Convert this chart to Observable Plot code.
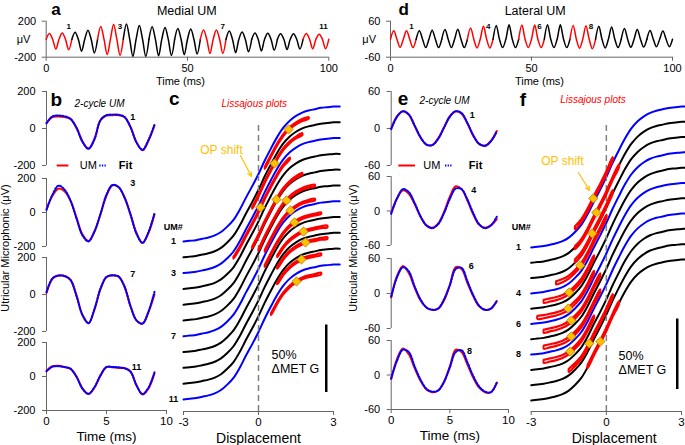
<!DOCTYPE html>
<html><head><meta charset="utf-8">
<script src="https://cdn.jsdelivr.net/npm/d3@7"></script>
<script src="https://cdn.jsdelivr.net/npm/@observablehq/plot@0.6"></script>
<style>
body{margin:0;background:#fff;font-family:"Liberation Sans",Arial,sans-serif;}
#root{position:relative;width:685px;height:445px;overflow:hidden;background:#fff;}
.ytitle{position:absolute;transform:translate(-50%,-50%) rotate(-90deg);font-size:11px;white-space:nowrap;color:#000;}
</style></head><body><div id="root"></div>
<script>
// ---------- data: long 100 ms traces (per-cycle peak / trough, µV) ----------
const medialPeaks   = [62,70, 78,100, 141,163, 170,152, 138,130, 120,112, 103,103, 90,80, 70,66, 60,60, 62,56];
const medialTroughs = [-110,-118, -133,-152, -170,-178, -190,-190, -185,-180, -172,-165, -158,-158, -150,-140, -130,-122, -115,-110, -106,-106];
const medialRedSegments = [1,3,7,11];
const medialTicksY = [-200,200];
const lateralPeaks   = [28,28, 28,30, 32,33, 37,43, 46,48, 47,47, 48,48, 46,45, 43,41, 36,32, 29,27];
const lateralTroughs = [-27,-28, -28,-28, -28,-28, -29,-29, -28,-28, -28,-28, -28,-28, -30,-32, -29,-28, -27,-26, -25,-25];
const lateralRedSegments = [1,4,6,8];
const lateralTicksY = [-60,60];
const traceTicksX = [0,50,100];

// ---------- data: 2-cycle UM segments (µV at tGrid ms) ----------
const tGrid = [0,0.5,1,1.5,2,2.5,3,3.5,4,4.5,5,5.5,6,6.5,7,7.5,8,8.5,9];
const bUM1  = [30,62,65,62,52,5,-70,-108,-55,45,70,72,72,62,8,-75,-118,-65,15];
const bFit1 = [28,66,70,66,52,3,-72,-110,-58,45,72,75,74,62,8,-75,-115,-62,22];
const bUM3  = [20,100,140,125,70,-30,-130,-168,-110,-10,100,160,150,90,-10,-120,-180,-120,-10];
const bFit3 = [15,105,158,135,70,-35,-135,-170,-112,-8,105,162,150,88,-12,-125,-178,-115,-5];
const bUM7  = [9,85,103,100,80,-5,-110,-155,-80,30,95,103,98,42,-65,-140,-158,-95,0];
const bFit7 = [12,88,102,100,78,-8,-112,-155,-78,32,95,104,97,44,-62,-140,-157,-92,15];
const bUM11 = [34,60,63,55,45,0,-70,-103,-65,5,55,55,50,50,30,-52,-106,-70,20];
const bFit11= [30,58,60,56,46,-2,-72,-102,-62,8,56,56,54,48,28,-52,-103,-65,25];
const eUM1  = [0,20,28,22,4,-15,-26,-27,-16,2,20,28,24,8,-12,-25,-28,-20,-4];
const eFit1 = [-1,19,28,23,5,-14,-26,-27,-17,1,19,28,25,9,-11,-25,-28,-21,-5];
const eUM4  = [-3,22,36,30,12,-10,-25,-29,-22,-2,25,43,38,18,-6,-24,-29,-25,-14];
const eFit4 = [-5,22,38,33,14,-9,-25,-30,-23,-4,21,39,38,20,-4,-23,-30,-25,-10];
const eUM6  = [-7,30,47,35,10,-12,-24,-28,-26,-12,15,45,42,18,-5,-22,-28,-26,-13];
const eFit6 = [-5,28,45,38,12,-10,-24,-28,-26,-10,14,42,44,21,-3,-21,-28,-26,-13];
const eUM8  = [-7,28,46,36,12,-10,-25,-30,-27,-12,15,44,40,18,-5,-22,-30,-30,-13];
const eFit8 = [-6,25,44,40,15,-8,-24,-29,-27,-12,13,40,43,22,-2,-20,-29,-30,-14];
const bTicksY = [-200,0,200], eTicksY = [-60,0,60], smallTicksX = [0,5,10];

// ---------- data: MET conductance curve (fraction) vs displacement ----------
const dispGrid = [-3,-2.75,-2.5,-2.25,-2,-1.75,-1.5,-1.25,-1,-0.75,-0.5,-0.25,0,0.25,0.5,0.75,1,1.25,1.5,1.75,2,2.25,2.5,2.75,3,3.25];
const metG     = [0,0.005,0.01,0.02,0.03,0.045,0.07,0.11,0.16,0.235,0.325,0.41,0.5,0.6,0.69,0.775,0.845,0.895,0.93,0.955,0.97,0.98,0.99,0.995,1,1];
const umNumbers = [1,2,3,4,5,6,7,8,9,10,11];
const cBlueUM = [1,3,7,11], fBlueUM = [1,4,6,8];
const dispTicks = [-3,0,3];
// Lissajous operating points (displacement, %G level) and loop extents
const cOpX = [1.2,0.64,0.72,1.12,0.08,1.28,1.44,1.8,1.88,1.72,1.52];
const cOpY = [83.0,57.8,31.1,30.4,25.2,23.0,14.1,7.4,-0.7,-13.3,-29.6];
const cLoopFrom = [0.25,-0.25,-0.25,0,-1.0,0.25,0.25,0.75,0.75,0.75,0.5];
const cLoopTo   = [2.0,1.75,1.75,2.25,1.25,2.25,2.5,2.75,2.75,2.5,2.5];
const fOpX = [-0.52,-0.4,-0.56,-1.04,-1.48,-1.52,-1.4,-1.4,-0.68,-0.24,-1.44];
const fOpY = [34.8,24.8,9.9,-12.8,-31.9,-43.3,-51.8,-63.1,-68.1,-66.7,-73.8];
const fLoopFrom = [-1.25,-1.25,-1.25,-2.0,-2.5,-2.75,-2.5,-2.5,-1.5,-0.75,-2.5];
const fLoopTo   = [0.25,0.5,0.25,0,-0.5,-0.5,-0.25,-0.25,0.25,0.5,-0.5];
const scaleBarPct = 50;

// ---------- helpers ----------
const FONT = "'Liberation Sans', Arial, sans-serif";
const RED = "#ff0000", BLUE = "#0000ff", AX = "#666666", GOLD = "#ffc000";
const fmt = d => String(d);
const root = document.getElementById("root");
function add(opts, left, top) {
  const svg = Plot.plot({...opts, style: {fontFamily: FONT, fontSize: "11px", background: "none", overflow: "visible", color: "#000"}});
  svg.style.position = "absolute"; svg.style.left = left + "px"; svg.style.top = top + "px";
  root.appendChild(svg);
}
function T(txt, o) { return Plot.text([txt], {text: d => d, textAnchor: "middle", lineAnchor: "middle", ...o}); }

function traceRows(peaks, troughs) {
  const P = 100 / peaks.length, rows = [];
  for (let s = 0; s < peaks.length / 2; s++) {
    for (let c = 2 * s; c < 2 * s + 2; c++) {
      rows.push({seg: s + 1, t: c * P, v: 0});
      rows.push({seg: s + 1, t: c * P + P / 4, v: peaks[c]});
      rows.push({seg: s + 1, t: c * P + P / 2, v: 0});
      rows.push({seg: s + 1, t: c * P + 3 * P / 4, v: troughs[c]});
    }
    rows.push({seg: s + 1, t: (2 * s + 2) * P, v: 0});
  }
  return rows;
}

function tracePanel(o) {
  const w = 340, h = 90, P = 100 / o.peaks.length;
  const yMax = o.ticksY[1];
  add({
    width: w, height: h, marginLeft: o.xLeft - o.left, marginRight: w - (o.xRight - o.left),
    marginTop: 20.7, marginBottom: h - 56.7,
    x: {domain: [0, 100]}, y: {domain: [-yMax, yMax]}, color: {type: "identity"},
    marks: [
      Plot.ruleX([0], {stroke: AX}),
      Plot.ruleY([-yMax], {stroke: AX}),
      Plot.axisY({ticks: o.ticksY, tickSize: 4, tickPadding: 6, tickFormat: fmt, stroke: AX, fontSize: 11, label: null}),
      Plot.axisX({ticks: traceTicksX, tickSize: 4, tickPadding: 3, tickFormat: fmt, stroke: AX, fontSize: 11, label: null}),
      Plot.line(traceRows(o.peaks, o.troughs), {x: "t", y: "v", z: "seg", stroke: d => o.red.includes(d.seg) ? RED : "#000", strokeWidth: 1.5, curve: "catmull-rom"}),
      Plot.text(o.red, {x: s => s * 2 * P, y: yMax, text: s => String(s), textAnchor: "end", lineAnchor: "middle", dx: o.numDx, dy: 5.3, fontWeight: "bold", fontSize: 8}),
      T(o.title, {frameAnchor: "top", dx: o.titleDx, dy: -10.7, fontSize: 12.5}),
      T(o.letter, {frameAnchor: "top-left", dx: o.letterDx, dy: -11.5, fontSize: 17, fontWeight: "bold"}),
      T("μV", {frameAnchor: "left", dx: o.muDx, fontSize: 11}),
      T("Time (ms)", {frameAnchor: "bottom", dx: o.timeDx, dy: 24.5, fontSize: 11})
    ]
  }, o.left, 0);
}

tracePanel({left: 0, xLeft: 45.7, xRight: 328.3, peaks: medialPeaks, troughs: medialTroughs, red: medialRedSegments, ticksY: medialTicksY,
  title: "Medial UM", letter: "a", titleDx: -0.7, letterDx: 9.8, muDx: -22.7, timeDx: -7, numDx: -1});
tracePanel({left: 345, xLeft: 390, xRight: 672, peaks: lateralPeaks, troughs: lateralTroughs, red: lateralRedSegments, ticksY: lateralTicksY,
  title: "Lateral UM", letter: "d", titleDx: 3.7, letterDx: 13.3, muDx: -21.3, timeDx: 8, numDx: -2.5});

function wave(o) {
  const sTop = o.fTop - 12, w = 172;
  const h = o.fBottom - sTop + (o.bottom ? 34 : 8);
  const yMax = o.ticks[2];
  const marks = [
    Plot.ruleX([0], {stroke: AX}),
    Plot.axisY({ticks: o.ticks, tickSize: 4, tickPadding: 7, tickFormat: fmt, stroke: AX, fontSize: 11, label: null}),
    Plot.line(tGrid, {x: d => d, y: (d, i) => o.um[i], stroke: RED, strokeWidth: 2, curve: "catmull-rom"}),
    Plot.line(tGrid, {x: d => d, y: (d, i) => o.fit[i], stroke: BLUE, strokeWidth: 2, strokeDasharray: "1.6,1.6", curve: "catmull-rom"}),
    T(o.num, {frameAnchor: "top-left", dx: o.numDx, dy: o.numDy, fontWeight: "bold", fontSize: 9})
  ];
  if (o.bottom) marks.push(
    Plot.ruleY([-yMax], {stroke: AX}),
    Plot.axisX({ticks: smallTicksX, tickSize: 4, tickPadding: 2.5, tickFormat: fmt, stroke: AX, fontSize: 11.5, label: null}),
    T("Time (ms)", {frameAnchor: "bottom", dy: 26.5, fontSize: 13.5}));
  if (o.extra) marks.push(...o.extra(yMax));
  add({
    width: w, height: h, marginLeft: o.xLeft - o.left, marginRight: w - (o.xRight - o.left),
    marginTop: o.fTop - sTop, marginBottom: h - (o.fBottom - sTop),
    x: {domain: [0, 10], axis: o.bottom ? undefined : null}, y: {domain: [-yMax, yMax]},
    marks
  }, o.left, sTop);
}
function legendMarks(l) {
  return yMax => [
    Plot.ruleY([-yMax], {x1: l[0], x2: l[1], stroke: RED, strokeWidth: 2}),
    Plot.text(["UM"], {x: l[2], y: -yMax, text: d => d, textAnchor: "start", lineAnchor: "middle", fontSize: 11}),
    Plot.ruleY([-yMax], {x1: l[3], x2: l[4], stroke: BLUE, strokeWidth: 2, strokeDasharray: "1.3,1.3"}),
    Plot.text(["Fit"], {x: l[5], y: -yMax, text: d => d, textAnchor: "start", lineAnchor: "middle", fontSize: 11, fontWeight: "bold"})
  ];
}
const B = {left: 0, xLeft: 46, xRight: 166, ticks: bTicksY};
const E = {left: 345, xLeft: 390.7, xRight: 508, ticks: eTicksY};
wave({...B, fTop: 91, fBottom: 165, um: bUM1, fit: bFit1, num: "1", numDx: 86.3, numDy: 25.7,
  extra: yMax => [...legendMarks([0.89,1.86,2.78,4.44,5.0,6.03])(yMax),
    T("b", {frameAnchor: "top-left", dx: 9.8, dy: 8.9, fontSize: 19, fontWeight: "bold"}),
    T("2-cycle UM", {frameAnchor: "top-left", dx: 53, dy: 11.8, fontSize: 10, fontStyle: "italic"})]});
wave({...B, fTop: 178, fBottom: 246, um: bUM3, fit: bFit3, num: "3", numDx: 86.3, numDy: 4.7});
wave({...B, fTop: 257, fBottom: 331, um: bUM7, fit: bFit7, num: "7", numDx: 86.3, numDy: 17});
wave({...B, fTop: 342, fBottom: 410, um: bUM11, fit: bFit11, num: "11", numDx: 90, numDy: 24.7, bottom: true});
wave({...E, fTop: 91, fBottom: 165, um: eUM1, fit: eFit1, num: "1", numDx: 81, numDy: 24,
  extra: yMax => [...legendMarks([0.65,2.07,2.73,4.63,5.2,6.62])(yMax),
    T("e", {frameAnchor: "top-left", dx: 11.8, dy: 7.9, fontSize: 19, fontWeight: "bold"}),
    T("2-cycle UM", {frameAnchor: "top-left", dx: 53.3, dy: 8.8, fontSize: 10, fontStyle: "italic"})]});
wave({...E, fTop: 176, fBottom: 245, um: eUM4, fit: eFit4, num: "4", numDx: 82.6, numDy: 14});
wave({...E, fTop: 258, fBottom: 328, um: eUM6, fit: eFit6, num: "6", numDx: 80, numDy: 7.7});
wave({...E, fTop: 340, fBottom: 409, um: eUM8, fit: eFit8, num: "8", numDx: 78.3, numDy: 10.7, bottom: true});

// ---------- Lissajous panels ----------
const metAt = d3.scaleLinear().domain(dispGrid).range(metG);
function lissPanel(o) {
  const w = o.width, h = 355;
  const yMin = (o.y0px - 411) / o.pxPer, yMax = (o.y0px - 100) / o.pxPer;
  const curves = [];
  umNumbers.forEach(um => dispGrid.forEach((x, j) => curves.push({um, x, y: 100 * metG[j] - (um - 1) * o.spacing})));
  const loops = [];
  o.opX.forEach((xo, k) => {
    const off = o.opY[k] - 100 * metAt(xo);
    const pts = dispGrid.map((x, j) => ({x, g: 100 * metG[j] + off})).filter(p => p.x >= o.from[k] - 1e-9 && p.x <= o.to[k] + 1e-9);
    pts.forEach(p => loops.push({k, x: p.x, y: p.g + o.loopHalf}));
    pts.slice().reverse().forEach(p => loops.push({k, x: p.x, y: p.g - o.loopHalf}));
    loops.push({k, x: pts[0].x, y: pts[0].g + o.loopHalf});
  });
  const barBottom = (o.y0px - o.barBottomPx) / o.pxPer;
  add({
    width: w, height: h, marginLeft: o.xLeft - o.left, marginRight: w - (o.xRight - o.left), marginTop: 10, marginBottom: h - 321,
    x: {domain: [-3, 3]}, y: {domain: [yMin, yMax], axis: null}, color: {type: "identity"},
    marks: [
      Plot.ruleY([yMin], {stroke: AX}),
      Plot.axisX({ticks: dispTicks, tickSize: 4, tickPadding: 2, tickFormat: fmt, stroke: AX, fontSize: 11.5, label: null}),
      T("Displacement", {frameAnchor: "bottom", dx: o.dispDx, dy: 27, fontSize: 14}),
      Plot.line(curves, {x: "x", y: "y", z: "um", stroke: d => o.blue.includes(d.um) ? BLUE : "#000", strokeWidth: 2, curve: "catmull-rom"}),
      Plot.ruleX([0], {y1: yMin, y2: o.dashTop, stroke: "#808080", strokeWidth: 1.5, strokeDasharray: "6,4"}),
      Plot.line(loops, {x: "x", y: "y", z: "k", stroke: RED, strokeWidth: 2.2, curve: "catmull-rom"}),
      Plot.dot(o.opX, {x: d => d, y: (d, i) => o.opY[i], symbol: "diamond2", r: 4.2, fill: GOLD, stroke: "#a07000", strokeWidth: 0.7}),
      Plot.arrow([0], {x1: o.arrow[0], y1: o.arrow[1], x2: o.arrow[2], y2: o.arrow[3], stroke: GOLD, strokeWidth: 1.2, headLength: 6, headAngle: 50}),
      T("OP shift", {frameAnchor: "top-left", dx: o.opDx, dy: o.opDy, fontSize: 12, fill: GOLD}),
      T("Lissajous plots", {frameAnchor: "top", dx: o.lissDx, dy: o.lissDy, fontSize: 10, fontStyle: "italic", fill: RED}),
      T(o.letter, {frameAnchor: "top-left", dx: o.letterDx, dy: o.letterDy, fontSize: 19, fontWeight: "bold"}),
      Plot.text(["UM#"], {x: -3, y: 0, text: d => d, dx: o.umHashDx, dy: o.umHashDy, textAnchor: "middle", lineAnchor: "middle", fontSize: 9, fontWeight: "bold"}),
      Plot.text(o.labels, {x: -3, y: um => -(um - 1) * o.spacing, text: um => String(um), dx: o.labelDx, textAnchor: "middle", lineAnchor: "middle", fontWeight: "bold", fontSize: 9}),
      Plot.ruleX([o.barX], {y1: barBottom, y2: barBottom + scaleBarPct, stroke: "#000", strokeWidth: 2.5}),
      Plot.text([scaleBarPct + "%"], {x: o.barX, y: barBottom + scaleBarPct / 2, text: d => d, dx: o.textDx, dy: o.pctDy, textAnchor: "start", lineAnchor: "middle", fontSize: 12.5}),
      Plot.text(["ΔMET G"], {x: o.barX, y: barBottom + scaleBarPct / 2, text: d => d, dx: o.textDx, dy: o.pctDy + 14, textAnchor: "start", lineAnchor: "middle", fontSize: 12.5})
    ]
  }, o.left, 90);
}
lissPanel({left: 160, width: 185, xLeft: 183, xRight: 333, y0px: 241, pxPer: 1.35, spacing: 11.7, blue: cBlueUM, labels: cBlueUM,
  opX: cOpX, opY: cOpY, from: cLoopFrom, to: cLoopTo, loopHalf: 0.7, dashTop: 87.4, barX: 2.71, barBottomPx: 392, textDx: -54.7, pctDy: -3.3,
  arrow: [-0.72, 63.7, -0.28, 48.1], opDx: 38, opDy: 49.2, lissDx: -4.2, lissDy: 3.1, letter: "c", letterDx: -9.3, letterDy: -1.1,
  umHashDx: -10.3, umHashDy: -14, labelDx: -10, dispDx: 0});
lissPanel({left: 505, width: 180, xLeft: 530.7, xRight: 681, y0px: 247, pxPer: 1.41, spacing: 10.85, blue: fBlueUM, labels: fBlueUM,
  opX: fOpX, opY: fOpY, from: fLoopFrom, to: fLoopTo, loopHalf: 1.1, dashTop: 88.7, barX: 2.83, barBottomPx: 389, textDx: -58.7, pctDy: 1.5,
  arrow: [-1.12, 53.2, -0.67, 40.4], opDx: 31.3, opDy: 60.5, lissDx: -13.4, lissDy: -0.9, letter: "f", letterDx: -8.2, letterDy: -0.1,
  umHashDx: -10, umHashDy: -20, labelDx: -12.8, dispDx: 7.8});

// rotated axis titles
for (const [x, y] of [[4.7, 248], [353.3, 248]]) {
  const d = document.createElement("div");
  d.className = "ytitle"; d.style.left = x + "px"; d.style.top = y + "px";
  d.textContent = "Utricular Microphonic (μV)";
  root.appendChild(d);
}
</script></body></html>
